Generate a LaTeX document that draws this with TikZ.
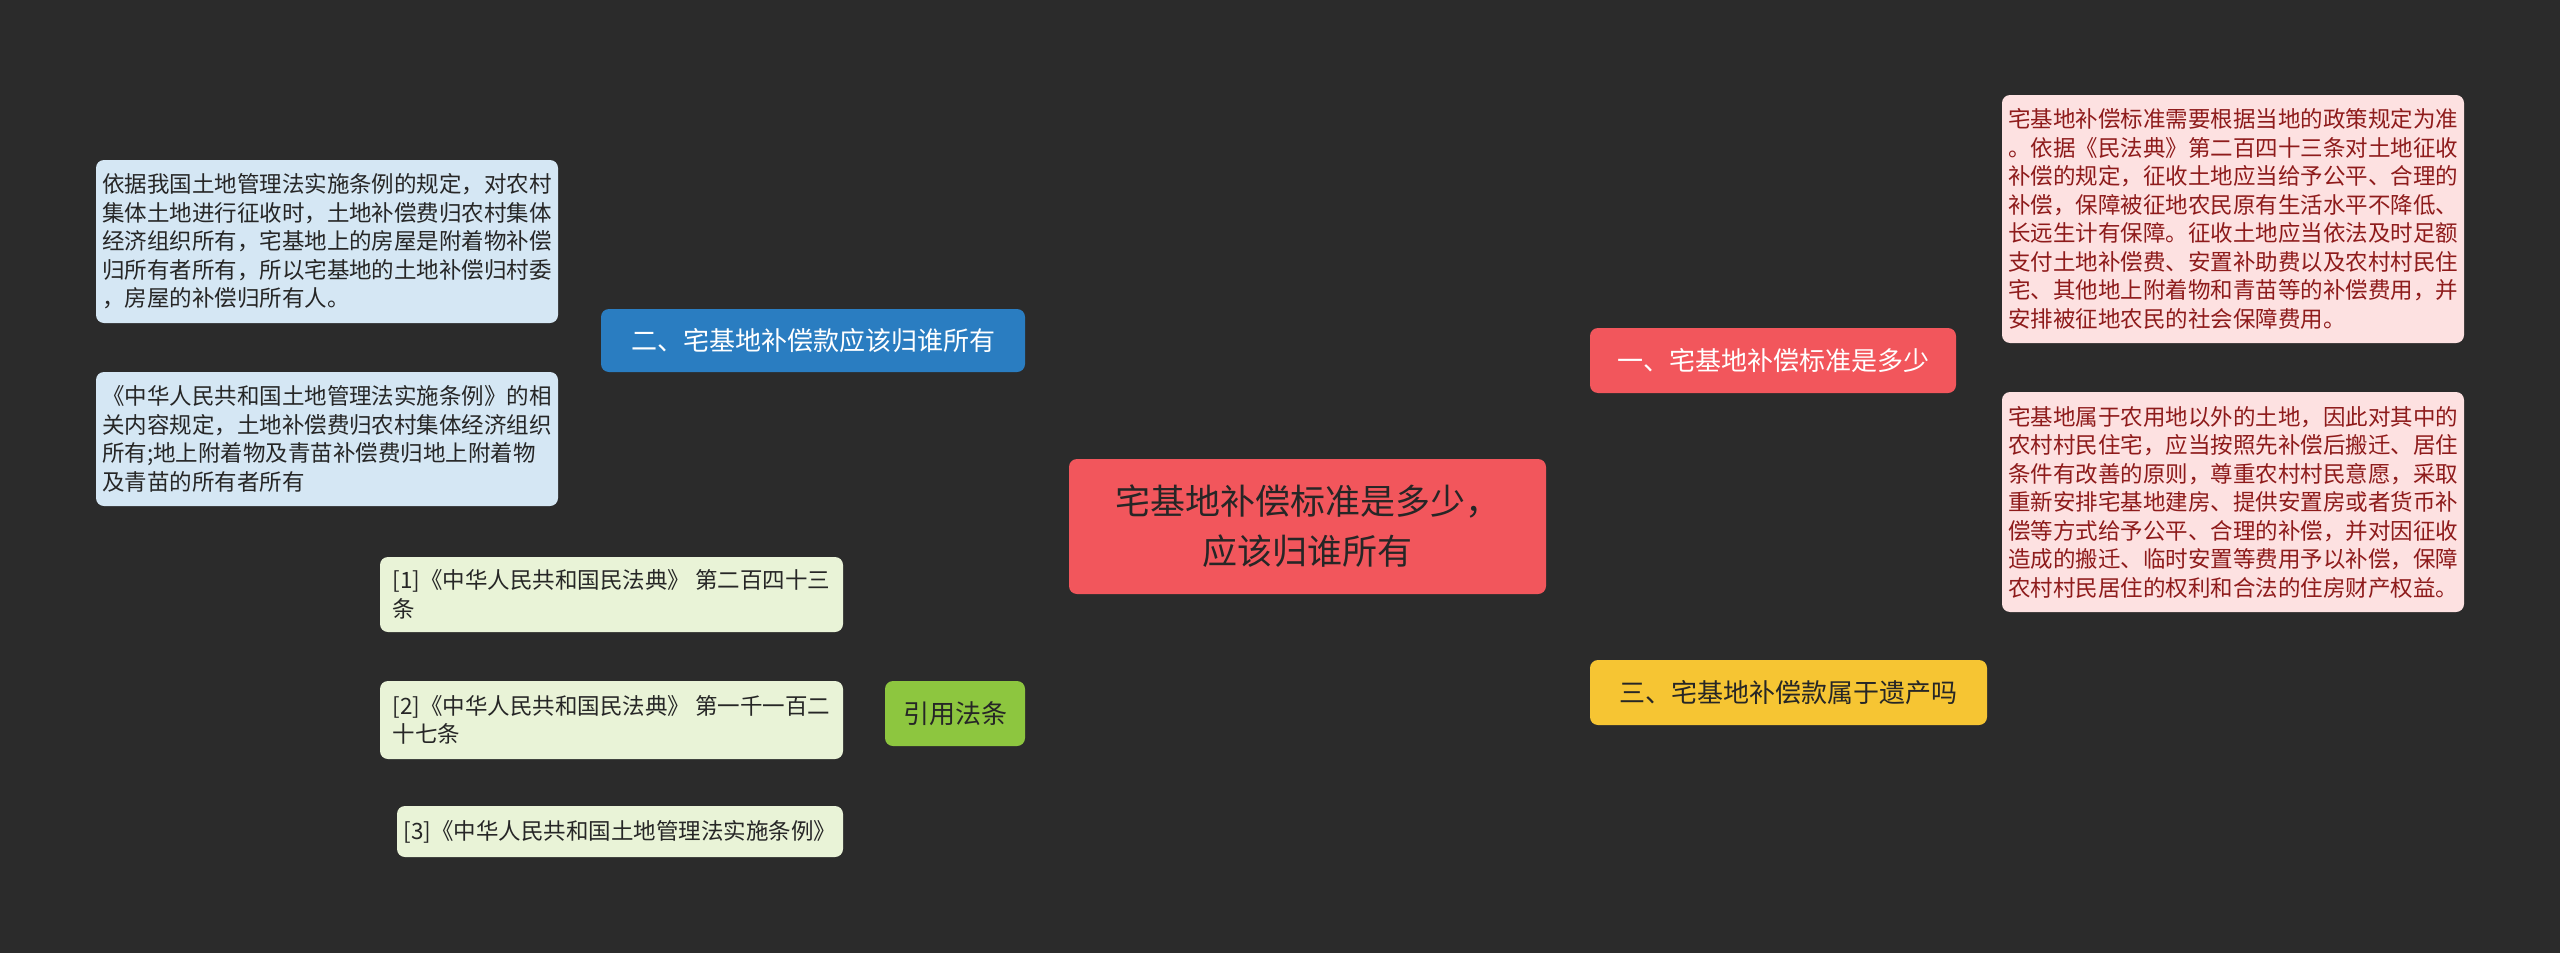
\documentclass[tikz,border=0pt]{standalone}
\usepackage{fontspec}
\setmainfont{Noto Sans CJK SC}
\usetikzlibrary{backgrounds}
\definecolor{bg}{HTML}{2B2B2B}
\definecolor{cred}{HTML}{F2565C}
\definecolor{cblue}{HTML}{2A7DC1}
\definecolor{cgreen}{HTML}{8DC63F}
\definecolor{cyellow}{HTML}{F6C533}
\definecolor{lred}{HTML}{FDE1E1}
\definecolor{lblue}{HTML}{D5E7F4}
\definecolor{lgreen}{HTML}{E9F3D7}
\definecolor{tred}{HTML}{8E1B1B}
\begin{document}
\begin{tikzpicture}[x=1pt,y=-1pt,
  box/.style={rounded corners=8pt,inner sep=0pt,align=left},
  leaf/.style={box,font=\fontsize{22.5}{28.5}\selectfont,align=left},
  conn/.style={line width=2.2pt,rounded corners=12pt}]
\fill[bg] (0,0) rectangle (2560,953);
\useasboundingbox (0,0) rectangle (2560,953);
% main
\node[box,fill=cred,minimum width=477pt,minimum height=135pt,align=center,text=black!85,font=\fontsize{35}{50}\selectfont] (c) at (1307.5,526.5) {宅基地补偿标准是多少，\\应该归谁所有};
\node[box,fill=cred,minimum width=366pt,minimum height=65pt,text=white,font=\fontsize{26}{30}\selectfont] (b1) at (1773,360.5) {一、宅基地补偿标准是多少};
\node[box,fill=cyellow,minimum width=397pt,minimum height=65pt,text=black!85,font=\fontsize{26}{30}\selectfont] (b3) at (1788.5,692.5) {三、宅基地补偿款属于遗产吗};
\node[box,fill=cblue,minimum width=424pt,minimum height=63pt,text=white,font=\fontsize{26}{30}\selectfont] (b2) at (813,340.5) {二、宅基地补偿款应该归谁所有};
\node[box,fill=cgreen,minimum width=140pt,minimum height=65pt,text=black!85,font=\fontsize{26}{30}\selectfont] (b4) at (955,713.5) {引用法条};
% right leaves
\node[leaf,fill=lred,text=tred,minimum width=462pt,minimum height=248pt] (r1) at (2233,219) {宅基地补偿标准需要根据当地的政策规定为准\\。依据《民法典》第二百四十三条对土地征收\\补偿的规定，征收土地应当给予公平、合理的\\补偿，保障被征地农民原有生活水平不降低、\\长远生计有保障。征收土地应当依法及时足额\\支付土地补偿费、安置补助费以及农村村民住\\宅、其他地上附着物和青苗等的补偿费用，并\\安排被征地农民的社会保障费用。};
\node[leaf,fill=lred,text=tred,minimum width=462pt,minimum height=220pt] (r2) at (2233,502) {宅基地属于农用地以外的土地，因此对其中的\\农村村民住宅，应当按照先补偿后搬迁、居住\\条件有改善的原则，尊重农村村民意愿，采取\\重新安排宅基地建房、提供安置房或者货币补\\偿等方式给予公平、合理的补偿，并对因征收\\造成的搬迁、临时安置等费用予以补偿，保障\\农村村民居住的权利和合法的住房财产权益。};
% left leaves
\node[leaf,fill=lblue,text=black!85,minimum width=462pt,minimum height=163pt] (l1) at (327,241.5) {依据我国土地管理法实施条例的规定，对农村\\集体土地进行征收时，土地补偿费归农村集体\\经济组织所有，宅基地上的房屋是附着物补偿\\归所有者所有，所以宅基地的土地补偿归村委\\，房屋的补偿归所有人。};
\node[leaf,fill=lblue,text=black!85,minimum width=462pt,minimum height=134pt] (l2) at (327,439) {《中华人民共和国土地管理法实施条例》的相\\关内容规定，土地补偿费归农村集体经济组织\\所有;地上附着物及青苗补偿费归地上附着物\\及青苗的所有者所有};
\node[leaf,fill=lgreen,text=black!85,minimum width=463pt,minimum height=75pt] (f1) at (611.5,594.5) {[1]《中华人民共和国民法典》 第二百四十三\\条};
\node[leaf,fill=lgreen,text=black!85,minimum width=463pt,minimum height=78pt] (f2) at (611.5,720) {[2]《中华人民共和国民法典》 第一千一百二\\十七条};
\node[leaf,fill=lgreen,text=black!85,minimum width=446pt,minimum height=51pt] (f3) at (620,831.5) {[3]《中华人民共和国土地管理法实施条例》};
\coordinate (cl) at (1047,527);
\coordinate (cr) at (1569,527);
\begin{scope}[on background layer]
\draw[conn,cgreen] (cl) -- (cr);
\draw[conn,cyellow] (cr) |- (b3.west);
\draw[conn,cred] (cr) |- (b1.west);
\draw[conn,cblue] (cl) |- (b2.east);
\draw[conn,cgreen] (cl) |- (b4.east);
\draw[conn,cred] (b1.east) -- (1980,360.5) |- (r1.west);
\draw[conn,cred] (1980,360.5) |- (r2.west);
\draw[conn,cblue] (b2.west) -- (580,340.5) |- (l1.east);
\draw[conn,cblue] (580,340.5) |- (l2.east);
\draw[conn,cgreen] (b4.west) -- (864,713.5) |- (f1.east);
\draw[conn,cgreen] (864,713.5) |- (f3.east);
\draw[conn,cgreen] (864,713.5) |- (f2.east);
\end{scope}
\end{tikzpicture}
\end{document}
